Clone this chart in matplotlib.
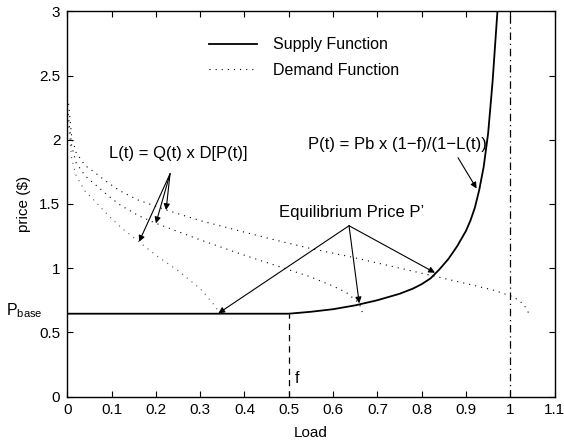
import matplotlib
matplotlib.use("Agg")
import matplotlib.pyplot as plt
import matplotlib.transforms as mtransforms

plt.rcParams['font.family'] = ['Liberation Sans', 'DejaVu Sans']
plt.rcParams['mathtext.fontset'] = 'custom'
plt.rcParams['mathtext.rm'] = 'Liberation Sans'

# ---- data ----
p_base = 0.645
f_load = 0.5

supply_x = [0.0, 0.5, 0.55, 0.6, 0.65, 0.7, 0.75, 0.78, 0.8, 0.82, 0.84, 0.86, 0.88,
            0.9, 0.91, 0.92, 0.93, 0.94, 0.95, 0.96, 0.971]
supply_y = [0.645, 0.645, 0.66, 0.68, 0.71, 0.75, 0.80, 0.84, 0.875, 0.92, 0.99, 1.07, 1.17,
            1.29, 1.37, 1.47, 1.61, 1.79, 2.05, 2.45, 3.0]

demand1_x = [0.002, 0.01, 0.02, 0.04, 0.06, 0.09, 0.12, 0.162, 0.2, 0.25, 0.3, 0.33, 0.345]
demand1_y = [2.15, 1.85, 1.72, 1.60, 1.53, 1.42, 1.32, 1.205, 1.10, 0.98, 0.84, 0.72, 0.645]

demand2_x = [0.002, 0.01, 0.02, 0.04, 0.06, 0.09, 0.12, 0.16, 0.2, 0.3, 0.4, 0.48, 0.548,
             0.6, 0.63, 0.659, 0.668]
demand2_y = [2.2, 1.95, 1.82, 1.72, 1.66, 1.57, 1.49, 1.41, 1.349, 1.22, 1.10, 1.01, 0.933,
             0.86, 0.81, 0.726, 0.635]

demand3_x = [0.003, 0.01, 0.02, 0.04, 0.06, 0.09, 0.12, 0.16, 0.224, 0.3, 0.4, 0.48, 0.548,
             0.65, 0.75, 0.834, 0.9, 0.96, 1.007, 1.03, 1.044]
demand3_y = [2.28, 2.02, 1.90, 1.80, 1.75, 1.67, 1.60, 1.53, 1.452, 1.37, 1.28, 1.21, 1.154,
             1.08, 1.0, 0.933, 0.88, 0.83, 0.777, 0.72, 0.635]

x_ticks = [0, 0.1, 0.2, 0.3, 0.4, 0.5, 0.6, 0.7, 0.8, 0.9, 1.0, 1.1]
x_ticklabels = ['0', '0.1', '0.2', '0.3', '0.4', '0.5', '0.6', '0.7', '0.8', '0.9', '1', '1.1']
y_ticks = [0, 0.5, 1, 1.5, 2, 2.5, 3]
y_ticklabels = ['0', '0.5', '1', '1.5', '2', '2.5', '3']

capacity_x = 1.0

# annotation anchors / tips
lt_src = (0.232, 1.735)
lt_tips = [(0.162, 1.205), (0.2, 1.349), (0.223, 1.452)]
eq_src = (0.636, 1.33)
eq_tips = [(0.341, 0.648), (0.659, 0.726), (0.830, 0.964)]
pf_src = (0.882, 1.86)
pf_tip = (0.924, 1.62)

# ---- figure ----
fig = plt.figure(figsize=(5.64, 4.42), dpi=100)
ax = fig.add_axes([0.1193, 0.1029, 0.8640, 0.8715])

ax.plot(supply_x, supply_y, color='k', lw=1.3, label='Supply Function')
dot = (0, (1, 4.5))
ax.plot(demand3_x, demand3_y, color='k', lw=0.8, ls=dot, label='Demand Function')
ax.plot(demand2_x, demand2_y, color='k', lw=0.8, ls=dot)
ax.plot(demand1_x, demand1_y, color='#555555', lw=0.8, ls=dot)

ax.plot([f_load, f_load], [0, p_base], color='k', lw=0.9, ls=(0, (5, 4)))
ax.plot([capacity_x, capacity_x], [0, 3], color='k', lw=0.9, ls=(0, (6, 3, 1, 3)))

ax.set_xlim(0, 1.1)
ax.set_ylim(0, 3)
ax.set_xticks(x_ticks)
ax.set_xticklabels(x_ticklabels)
ax.set_yticks(y_ticks)
ax.set_yticklabels(y_ticklabels)
ax.tick_params(direction='in', top=True, right=True, length=4, width=0.8,
               labelsize=11, pad=5)
for s in ax.spines.values():
    s.set_linewidth(1.0)

ax.set_xlabel('Load', fontsize=11, labelpad=6)
ax.set_ylabel('price ($)', fontsize=11, labelpad=6)

leg = ax.legend(frameon=False, loc='upper left', bbox_to_anchor=(0.262, 0.97),
                fontsize=11.5, handlelength=3.0, handletextpad=1.0, labelspacing=0.65)

tr = mtransforms.blended_transform_factory(ax.transAxes, ax.transData)
ax.text(-0.05, p_base + 0.02, r'P$_{\mathrm{base}}$', transform=tr, ha='right',
        va='center', fontsize=11.5)
ax.text(f_load + 0.013, 0.14, 'f', fontsize=11.5, ha='left', va='center')

aprops = dict(arrowstyle='-|>', lw=0.8, color='k', mutation_scale=9,
              shrinkA=0, shrinkB=0)
ax.text(0.25, 1.89, 'L(t) = Q(t) x D[P(t)]', fontsize=12, ha='center', va='center')
for tip in lt_tips:
    ax.annotate('', xy=tip, xytext=lt_src, arrowprops=aprops)

ax.text(0.642, 1.43, "Equilibrium Price P\u2019", fontsize=12, ha='center', va='center')
for tip in eq_tips:
    ax.annotate('', xy=tip, xytext=eq_src, arrowprops=aprops)

ax.text(0.746, 1.96, 'P(t) = Pb x (1\u2212f)/(1\u2212L(t))', fontsize=12,
        ha='center', va='center')
ax.annotate('', xy=pf_tip, xytext=pf_src, arrowprops=aprops)

fig.savefig('out.png', dpi=100)
